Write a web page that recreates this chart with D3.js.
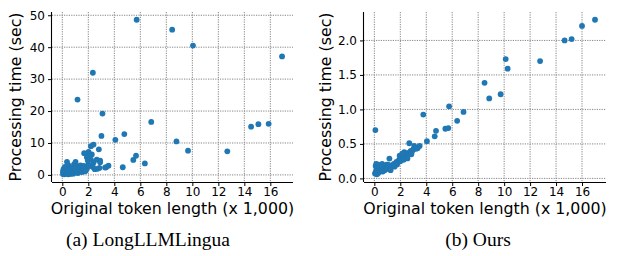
<!DOCTYPE html>
<html><head><meta charset="utf-8">
<script src="https://cdn.jsdelivr.net/npm/d3@7"></script>
<style>body{margin:0;background:#fff}svg{display:block}</style>
</head><body>
<svg id="c" width="621" height="256"></svg>
<script>
// LongLLMLingua: original token length (x1000) vs processing time (sec)
const lenA = [5.72,8.45,10.05,16.9,2.35,1.17,3.09,6.84,14.52,15.08,15.87,3.01,4.08,4.77,8.78,9.67,12.69,5.67,5.46,6.35,4.65,3.37,3.55,2.91,2.81,2.2,2.4,
 1.68,2.02,1.81,1.89,1.96,2.1,2.27,2.2,2.4,2.65,2.91,3.29,
 2.5,2.7,2.85,2.35,2.15,2.0,1.9,1.75,1.6,1.4,
 0.36,0.45,1.02,1.0,0.9,0.6,0.5,0.3,0.2,0.1,0.05,0.15,0.25,0.35,0.4,0.5,0.6,0.7,0.8,0.9,1.1,1.2,1.3,1.5,1.55,1.7,1.8,0.3,0.55,0.75,0.65,0.85,1.0,0.1,0.2,0.15,0.05,0.45,1.15,1.25,0.95,1.4,1.65];
const timeA = [48.6,45.5,40.5,37.1,32.0,23.6,19.2,16.6,15.1,15.9,16.0,12.2,11.0,12.8,10.5,7.6,7.4,6.0,4.7,3.6,2.4,2.4,2.9,4.5,8.0,9.0,9.5,
 6.8,7.2,6.6,5.5,4.5,6.0,6.4,4.8,3.9,4.8,4.0,2.3,
 1.8,1.9,2.2,2.5,2.8,3.2,2.0,1.6,1.4,1.2,
 4.1,3.1,4.1,2.8,3.3,2.2,2.6,2.0,1.5,0.8,0.3,0.2,0.6,1.0,0.4,0.9,0.5,1.2,0.7,1.5,1.0,0.6,1.8,0.9,2.2,1.1,1.3,1.4,1.6,2.0,0.3,0.4,0.8,1.9,2.5,0.5,1.2,0.2,1.7,2.6,2.2,3.0,2.8];

// Ours
const lenB = [17.0,16.0,15.2,14.66,12.77,10.12,10.27,8.49,8.85,9.73,6.87,6.38,5.76,5.47,5.7,3.77,4.75,4.65,4.05,2.69,3.07,3.49,3.33,0.08,1.16,
 0.05,0.1,0.15,0.2,0.1,0.15,0.25,0.3,0.35,0.4,0.45,0.5,0.55,0.6,0.7,0.75,0.8,0.9,0.95,1.0,1.1,1.2,1.3,1.4,1.5,1.6,1.7,1.8,1.9,1.95,2.0,2.05,2.1,2.2,2.3,2.35,2.4,2.5,2.6,2.7,2.8,2.9,3.0,3.2,2.25,1.75,1.25,0.65,0.2,0.3,0.6,1.05,1.55,2.15,2.55,2.85];
const timeB = [2.30,2.21,2.02,2.0,1.70,1.73,1.59,1.386,1.16,1.22,0.964,0.835,1.045,0.72,0.73,0.925,0.69,0.61,0.54,0.51,0.47,0.47,0.436,0.70,0.288,
 0.07,0.09,0.12,0.15,0.18,0.21,0.1,0.2,0.13,0.16,0.1,0.19,0.12,0.15,0.14,0.18,0.12,0.16,0.2,0.14,0.17,0.15,0.19,0.18,0.21,0.2,0.24,0.23,0.27,0.33,0.25,0.3,0.28,0.32,0.38,0.3,0.34,0.33,0.37,0.36,0.4,0.39,0.42,0.43,0.27,0.2,0.12,0.1,0.06,0.08,0.21,0.2,0.17,0.36,0.29,0.35];

const xTicks = [0,2,4,6,8,10,12,14,16];
const yTicksA = [0,10,20,30,40,50];
const yTicksB = [0,0.5,1.0,1.5,2.0];
const xLabel = "Original token length (x 1,000)";
const yLabel = "Processing time (sec)";
const captions = ["(a) LongLLMLingua", "(b) Ours"];

const svg = d3.select("#c");
const FONT = "DejaVu Sans, sans-serif";
const blue = "#1f77b4";

function pad(ext){ const r = ext[1]-ext[0]; return [ext[0]-0.05*r, ext[1]+0.05*r]; }

function panel(opt){
  const {left, right, top, bottom, xs, ys, yTicks, yFmt, labelX, caption, capX} = opt;
  const x = d3.scaleLinear().domain(pad(d3.extent(xs))).range([left, right]);
  const y = d3.scaleLinear().domain(pad(d3.extent(ys))).range([bottom, top]);
  const g = svg.append("g");
  // grid
  g.append("g").selectAll("line").data(xTicks).join("line")
    .attr("x1", d=>x(d)).attr("x2", d=>x(d)).attr("y1", top).attr("y2", bottom)
    .attr("stroke", "#858585").attr("stroke-width", 1).attr("stroke-dasharray", "1.2,1.2");
  g.append("g").selectAll("line").data(yTicks).join("line")
    .attr("x1", left).attr("x2", right).attr("y1", d=>y(d)).attr("y2", d=>y(d))
    .attr("stroke", "#858585").attr("stroke-width", 1).attr("stroke-dasharray", "1.2,1.2");
  // points
  g.append("g").selectAll("circle").data(xs.map((v,i)=>[v, ys[i]])).join("circle")
    .attr("cx", d=>x(d[0])).attr("cy", d=>y(d[1])).attr("r", 2.9).attr("fill", blue);
  // axes
  const xa = g.append("g").attr("transform", `translate(0,${bottom})`)
    .call(d3.axisBottom(x).tickValues(xTicks).tickSizeOuter(0).tickSize(4).tickPadding(1.5));
  const ya = g.append("g").attr("transform", `translate(${left},0)`)
    .call(d3.axisLeft(y).tickValues(yTicks).tickFormat(yFmt).tickSizeOuter(0).tickSize(4).tickPadding(3));
  [xa, ya].forEach(a => {
    a.select(".domain").attr("stroke", "#000").attr("stroke-width", 1.1);
    a.selectAll(".tick line").attr("stroke", "#000");
    a.selectAll(".tick text").attr("font-family", FONT).attr("font-size", 12).attr("fill", "#000");
  });
  xa.select(".domain").attr("d", `M${left},0.5H${right}`);
  ya.select(".domain").attr("d", `M-0.5,${top}V${bottom}`);
  // labels
  g.append("text").attr("x", (left+right)/2).attr("y", 214).attr("text-anchor", "middle")
    .attr("font-family", FONT).attr("font-size", 15.8).text(xLabel);
  g.append("text").attr("transform", `translate(${labelX},${(top+bottom)/2}) rotate(-90)`)
    .attr("text-anchor", "middle").attr("font-family", FONT).attr("font-size", 15.8).text(yLabel);
  g.append("text").attr("x", capX).attr("y", 246).attr("text-anchor", "middle")
    .attr("font-family", "Liberation Serif, Times New Roman, serif").attr("font-size", 19.5).text(caption);
}

panel({left:52, right:293, top:12, bottom:182, xs:lenA, ys:timeA, yTicks:yTicksA, yFmt:d3.format("d"), labelX:21, caption:captions[0], capX:148});
panel({left:364, right:606, top:12, bottom:182, xs:lenB, ys:timeB, yTicks:yTicksB, yFmt:d3.format(".1f"), labelX:331, caption:captions[1], capX:478});
</script>
</body></html>
